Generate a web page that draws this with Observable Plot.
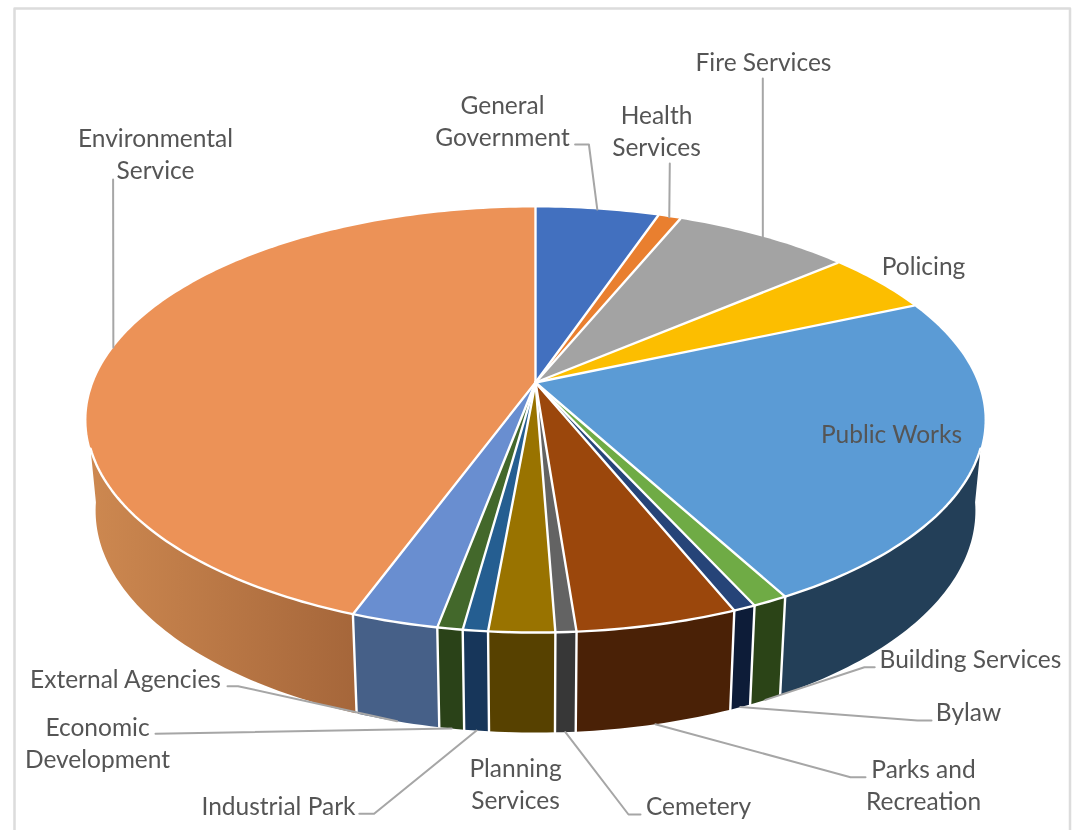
<!DOCTYPE html>
<html>
<head>
<meta charset="utf-8">
<style>
html,body{margin:0;padding:0;background:#fff;overflow:hidden}
svg{display:block;filter:blur(0.5px)}
</style>
<script src="https://cdn.jsdelivr.net/npm/d3@7"></script>
<script src="https://cdn.jsdelivr.net/npm/@observablehq/plot@0.6"></script>
</head>
<body>
<div id="chart"></div>
<script>
// ---- data (shares of the budget, in percent) ----
const categories = ["General Government","Health Services","Fire Services","Policing","Public Works",
  "Building Services","Bylaw","Parks and Recreation","Cemetery","Planning Services",
  "Industrial Park","Economic Development","External Agencies","Environmental Service"];
const shares = [5.25,0.97,7.56,4.67,23.63,1.09,0.69,4.92,0.63,2.0,0.76,0.77,2.66,44.4];
const topColors = ["#4270bf","#e97f2f","#a3a3a3","#fcbe00","#5b9bd5","#6fab45","#264478","#9b470c",
  "#636363","#997300","#255e91","#43682b","#698ed0","#ec9257"];
const sideColors = ["#2c4a7e","#8a4a1c","#626262","#967000","#233f58","#2b4417","#0d1c38","#4a2106",
  "#373737","#574100","#17365a","#2a4218","#466088","url(#envSide)"];

// ---- layout of the labels and their leader lines, by category ----
const labelLayout = new Map([
  ["General Government",   {x:502, y:121, rim:"top",    elbow:[[574.6,144],[588.4,144]]}],
  ["Health Services",      {x:656, y:131, rim:"top",    elbow:[[669.3,163]]}],
  ["Fire Services",        {x:763, y:62,  rim:"top",    elbow:[[762.3,78]]}],
  ["Policing",             {x:923, y:266}],
  ["Public Works",         {x:891, y:434}],
  ["Building Services",    {x:970, y:659, rim:"bottom", elbow:[[874.2,666.7],[863.9,666.7]]}],
  ["Bylaw",                {x:968, y:712, rim:"bottom", elbow:[[931,720],[917,720]]}],
  ["Parks and Recreation", {x:923, y:785, rim:"bottom", elbow:[[865,776.7],[850,776.7]]}],
  ["Cemetery",             {x:698, y:806, rim:"bottom", elbow:[[640,814],[628,814]]}],
  ["Planning Services",    {x:515, y:784}],
  ["Industrial Park",      {x:278, y:806, rim:"bottom", elbow:[[358.8,813.3],[373.6,813.3]]}],
  ["Economic Development", {x:97,  y:743, rim:"bottom", elbow:[[155,733.3]]}],
  ["External Agencies",    {x:125, y:679, rim:"bottom", elbow:[[227,685.7],[237.6,685.7]]}],
  ["Environmental Service",{x:155, y:154, rim:"top",    elbow:[[112.6,179]]}]
]);

// ---- perspective projection of the disc ----
const rad = Math.PI / 180;
const tilt = 0.1765;
const faces = {
  top:    {cx:535, cy:382, A:442, k:205.9},
  bottom: {cx:535, cy:471, A:433, k:215}
};
function project(face, deg) {
  const f = faces[face], u = Math.sin(deg*rad), v = -Math.cos(deg*rad), w = 1 - tilt*v;
  return [f.cx + f.A*u/w, f.cy + f.k*v/w];
}
function arc(face, a, b) {
  const n = Math.max(2, Math.ceil(Math.abs(b-a)));
  return d3.range(n+1).map(i => project(face, a + (b-a)*i/n));
}

// cumulative angles
const total = d3.sum(shares);
let acc = 0;
const slices = categories.map((name,i) => {
  const start = acc; acc += shares[i]*360/total;
  return {name, start, end:acc, mid:(start+acc)/2, top:topColors[i], side:sideColors[i]};
});

const visFrom = 107.7, visTo = 252.3;   // where the wall leaves the top rim
const baseFrom = 98, baseTo = 262;      // where the wall's silhouette meets the base rim
const centre = [faces.top.cx, faces.top.cy];
const topRows = [], sideRows = [], seamRows = [];
function seam(key, pts) { for (const [x,y] of pts) seamRows.push({key, x, y}); }
for (const s of slices) {
  for (const [x,y] of [centre, ...arc("top", s.start, s.end)]) topRows.push({name:s.name, x, y, color:s.top});
  seam("radial " + s.name, [centre, project("top", s.end)]);
  const a = Math.max(s.start, visFrom), b = Math.min(s.end, visTo);
  if (a < b) {
    const ba = s.start < visFrom ? baseFrom : s.start;
    const bb = s.end > visTo ? baseTo : s.end;
    for (const [x,y] of [...arc("top", a, b), ...arc("bottom", bb, ba)]) sideRows.push({name:s.name, x, y, color:s.side});
    if (s.end < visTo) seam("edge " + s.name, [project("top", s.end), project("bottom", s.end)]);
  }
}
seam("front rim", arc("top", visFrom, visTo));

const leaderRows = [];
for (const s of slices) {
  const l = labelLayout.get(s.name);
  if (!l.rim) continue;
  for (const [x,y] of [...l.elbow, project(l.rim, s.mid)]) leaderRows.push({name:s.name, x, y});
}
const labelRows = slices.map(s => {
  const l = labelLayout.get(s.name);
  let text = s.name;
  if (["General Government","Health Services","Parks and Recreation","Planning Services","Economic Development","Environmental Service"].includes(s.name)) {
    const i = s.name.indexOf(" ");
    text = s.name.startsWith("Parks") ? "Parks and\nRecreation" : s.name.slice(0,i) + "\n" + s.name.slice(i+1);
  }
  return {text, x:l.x, y:l.y};
});

const frameCorners = [{x:14,y:840},{x:14,y:8},{x:1069.5,y:8},{x:1069.5,y:840}];

const envGradient = () => {
  const svg = d3.create("svg:defs");
  const g = svg.append("linearGradient").attr("id","envSide")
    .attr("gradientUnits","userSpaceOnUse").attr("x1",90).attr("x2",356).attr("y1",0).attr("y2",0);
  g.append("stop").attr("offset","0%").attr("stop-color","#cd8850");
  g.append("stop").attr("offset","100%").attr("stop-color","#a5663a");
  return svg.node();
};

const chart = Plot.plot({
  width:1075, height:830,
  margin:0,
  style:{background:"#fff"},
  x:{domain:[0,1075], range:[0,1075], axis:null},
  y:{domain:[0,830], range:[0,830], axis:null},
  color:{type:"identity"},
  marks:[
    envGradient,
    Plot.line(frameCorners,{x:"x",y:"y",stroke:"#dcdcdc",strokeWidth:2.5}),
    Plot.line(sideRows,{x:"x",y:"y",z:"name",fill:"color",stroke:"none",curve:"linear-closed"}),
    Plot.line(topRows,{x:"x",y:"y",z:"name",fill:"color",stroke:"none",curve:"linear-closed"}),
    Plot.line(seamRows,{x:"x",y:"y",z:"key",stroke:"#fff",strokeWidth:2.4}),
    Plot.line(leaderRows,{x:"x",y:"y",z:"name",stroke:"#a6a6a6",strokeWidth:2}),
    Plot.text(labelRows,{x:"x",y:"y",dy:-2,text:"text",fill:"#555555",fontFamily:"Lato",fontSize:24.5,lineHeight:1.33,textAnchor:"middle"})
  ]
});
document.getElementById("chart").appendChild(chart);
</script>
</body>
</html>
